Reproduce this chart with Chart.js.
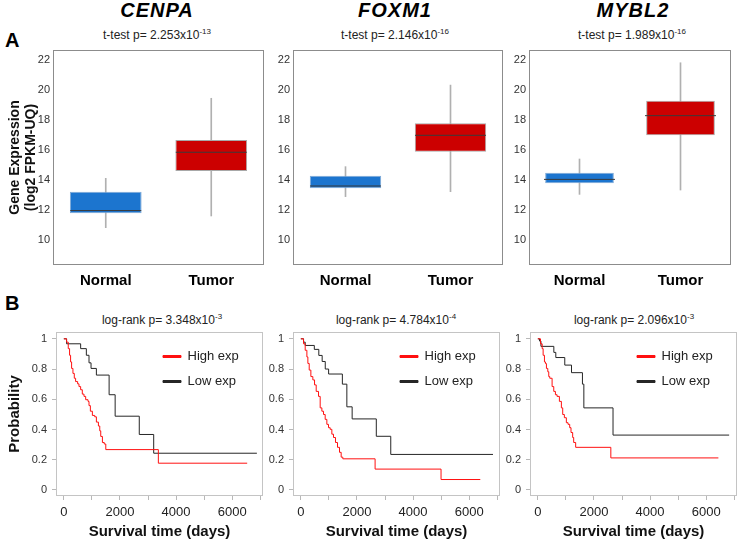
<!DOCTYPE html>
<html lang="en">
<head>
<meta charset="UTF-8" />
<title>CENPA / FOXM1 / MYBL2 expression and survival</title>
<script src="https://cdn.jsdelivr.net/npm/chart.js"></script>
<style>
  body { margin: 0; background: #fff; font-family: "Liberation Sans", Arial, sans-serif; }
  #fig { position: relative; width: 740px; height: 542px; overflow: hidden; background: #fff; }
  #fig canvas, #fig .txt { position: absolute; }
  .gene { width: 200px; text-align: center; font-size: 20px; line-height: 20px; font-weight: bold; font-style: italic; letter-spacing: 1px; color: #000; }
  .sub { width: 200px; text-align: center; font-size: 12px; line-height: 14px; color: #222; }
  .sub sup { font-size: 8px; line-height: 0; vertical-align: 5px; }
  .panel { font-size: 20px; line-height: 20px; font-weight: bold; color: #000; }
</style>
</head>
<body>
<div id="fig">
  <div class="txt panel" style="left:5px;top:30px">A</div>
  <div class="txt panel" style="left:5px;top:293px">B</div>

  <canvas id="box0" width="266" height="252" style="left:0px;top:45px"></canvas>
  <canvas id="box1" width="236" height="252" style="left:269px;top:45px"></canvas>
  <canvas id="box2" width="228" height="252" style="left:505px;top:45px"></canvas>

  <canvas id="km0" width="266" height="215" style="left:0px;top:327px"></canvas>
  <canvas id="km1" width="234" height="215" style="left:269px;top:327px"></canvas>
  <canvas id="km2" width="234" height="215" style="left:506px;top:327px"></canvas>
</div>

<script>
  // ---- data ----
  const genes = ["CENPA", "FOXM1", "MYBL2"];
  const groups = ["Normal", "Tumor"];
  const tTestP = ["2.253", "2.146", "1.989"];
  const tTestExp = ["-13", "-16", "-16"];
  const logRankP = ["3.348", "4.784", "2.096"];
  const logRankExp = ["-3", "-4", "-3"];

  const exprTicks = [10, 12, 14, 16, 18, 20, 22];
  const probTicks = [0, 0.2, 0.4, 0.6, 0.8, 1];
  const dayTicks = [0, 1000, 2000, 3000, 4000, 5000, 6000, 7000];

  // box stats per group [Normal, Tumor]
  const cenpaMin = [10.82, 11.6];
  const cenpaQ1 = [11.78, 14.6];
  const cenpaMed = [11.96, 15.85];
  const cenpaQ3 = [13.22, 16.67];
  const cenpaMax = [14.11, 19.45];

  const foxm1Min = [12.89, 13.22];
  const foxm1Q1 = [13.45, 15.89];
  const foxm1Med = [13.6, 16.98];
  const foxm1Q3 = [14.29, 17.78];
  const foxm1Max = [14.89, 20.33];

  const mybl2Min = [13.04, 13.33];
  const mybl2Q1 = [13.78, 16.98];
  const mybl2Med = [14.04, 18.29];
  const mybl2Q3 = [14.49, 19.29];
  const mybl2Max = [15.4, 21.82];

  // Kaplan-Meier steps: day of drop, survival after drop
  const cenpaHighDays = [0, 97, 157, 204, 240, 276, 324, 372, 419, 491, 539, 599, 658, 718, 778, 861, 897, 945, 1017, 1100, 1160, 1232, 1280, 1315, 1375, 1440, 1495, 3369, 6536];
  const cenpaHighSurv = [1, 0.978, 0.935, 0.891, 0.847, 0.804, 0.771, 0.739, 0.717, 0.702, 0.684, 0.663, 0.634, 0.619, 0.597, 0.586, 0.558, 0.521, 0.493, 0.484, 0.449, 0.423, 0.391, 0.354, 0.314, 0.304, 0.267, 0.177, 0.177];
  const cenpaLowDays = [0, 97, 599, 802, 897, 969, 1160, 1614, 1829, 2689, 3203, 6882];
  const cenpaLowSurv = [1, 0.967, 0.935, 0.891, 0.841, 0.804, 0.76, 0.63, 0.488, 0.367, 0.243, 0.243];

  const foxm1HighDays = [0, 96, 155, 215, 250, 298, 357, 428, 488, 547, 630, 689, 749, 808, 867, 927, 986, 1045, 1105, 1164, 1235, 1307, 1378, 1437, 1496, 2647, 4998, 6397];
  const foxm1HighSurv = [1, 0.967, 0.924, 0.88, 0.837, 0.793, 0.75, 0.728, 0.695, 0.652, 0.619, 0.543, 0.521, 0.499, 0.467, 0.434, 0.412, 0.401, 0.369, 0.347, 0.314, 0.282, 0.249, 0.217, 0.206, 0.138, 0.069, 0.069];
  const foxm1LowDays = [0, 96, 155, 480, 640, 760, 870, 990, 1480, 1640, 1829, 2690, 3205, 6850];
  const foxm1LowSurv = [1, 0.978, 0.956, 0.93, 0.89, 0.85, 0.8, 0.767, 0.7, 0.55, 0.47, 0.355, 0.235, 0.235];

  const mybl2HighDays = [0, 94, 153, 188, 235, 271, 306, 354, 389, 425, 508, 567, 626, 685, 768, 839, 886, 945, 1016, 1076, 1135, 1182, 1241, 1277, 1348, 2602, 6436];
  const mybl2HighSurv = [1, 0.967, 0.935, 0.891, 0.847, 0.836, 0.804, 0.782, 0.75, 0.739, 0.684, 0.652, 0.63, 0.619, 0.586, 0.543, 0.499, 0.478, 0.445, 0.434, 0.412, 0.38, 0.347, 0.314, 0.282, 0.212, 0.212];
  const mybl2LowDays = [0, 60, 110, 570, 640, 960, 1200, 1590, 1640, 2680, 6820];
  const mybl2LowSurv = [1, 0.985, 0.95, 0.91, 0.876, 0.826, 0.776, 0.7, 0.543, 0.363, 0.363];

  // ---- styling ----
  Chart.defaults.font.family = '"Liberation Sans", Arial, sans-serif';
  Chart.defaults.color = "#222";

  const boxFill = ["#1c75cf", "#cc0000"];
  const boxEdge = ["#7fa9d6", "#a8a8a8"];

  const fig = document.getElementById("fig");
  const geneX = [157, 395, 633];
  const subX = [157, 395, 632];
  const lrX = [162, 396, 634];
  genes.forEach((g, i) => {
    fig.insertAdjacentHTML("beforeend",
      `<div class="txt gene" style="left:${geneX[i] - 100}px;top:0px">${g}</div>` +
      `<div class="txt sub" style="left:${subX[i] - 100}px;top:28px">t-test p= ${tTestP[i]}x10<sup>${tTestExp[i]}</sup></div>` +
      `<div class="txt sub" style="left:${lrX[i] - 100}px;top:313px">log-rank p= ${logRankP[i]}x10<sup>${logRankExp[i]}</sup></div>`);
  });

  // fixed axis sizes so the plot frames land where they should
  function fix(size) {
    return (scale) => {
      if (scale.isHorizontal()) scale.height = size;
      else scale.width = size;
      scale.paddingTop = scale.paddingBottom = scale.paddingLeft = scale.paddingRight = 0;
    };
  }

  const framePlugin = {
    id: "frame",
    afterDraw(chart, args, opts) {
      const { ctx, chartArea: a } = chart;
      ctx.save();
      ctx.strokeStyle = opts.color;
      ctx.lineWidth = 1;
      ctx.strokeRect(Math.round(a.left) + 0.5, Math.round(a.top) + 0.5, Math.round(a.width) - 1, Math.round(a.height) - 1);
      ctx.restore();
    },
  };

  // put the legend in the upper right of the plot area
  const legendInside = {
    id: "legendInside",
    afterLayout(chart) {
      const lg = chart.legend, a = chart.chartArea;
      if (!lg) return;
      lg.left = a.right - 112;
      lg.right = a.right;
      lg.top = a.top + 6;
      lg.bottom = a.bottom;
      lg.width = lg.right - lg.left;
      lg.height = lg.bottom - lg.top;
    },
  };

  function makeBox(id, min, q1, med, q3, max, first) {
    new Chart(document.getElementById(id), {
      type: "bar",
      data: {
        labels: groups,
        datasets: [
          {
            type: "line",
            data: med,
            showLine: false,
            pointStyle: "line",
            pointRadius: 35.5,
            pointBorderColor: "#3a3a3a",
            pointBorderWidth: 1,
            order: 1,
          },
          {
            data: groups.map((g, k) => [q1[k], q3[k]]),
            backgroundColor: boxFill,
            borderColor: boxEdge,
            borderWidth: 1,
            borderSkipped: false,
            grouped: false,
            barPercentage: 0.68,
            categoryPercentage: 1,
            order: 2,
          },
          {
            data: groups.map((g, k) => [min[k], max[k]]),
            backgroundColor: "#b0b0b0",
            borderWidth: 0,
            barThickness: 1,
            grouped: false,
            order: 3,
          },
        ],
      },
      options: {
        responsive: false,
        animation: false,
        events: [],
        layout: { autoPadding: false, padding: { top: 5, right: 2, left: 0, bottom: 0 } },
        plugins: { legend: { display: false }, tooltip: { enabled: false }, frame: { color: "#8c8c8c" } },
        scales: {
          x: {
            grid: { display: false, drawTicks: false },
            border: { display: false },
            ticks: { color: "#000", padding: 7, font: { size: 15, weight: "bold" } },
            afterFit: fix(32),
          },
          y: {
            min: 8.33,
            max: 22.67,
            grid: { display: false, drawTicks: false },
            border: { display: false },
            afterBuildTicks: (s) => { s.ticks = exprTicks.map((v) => ({ value: v })); },
            ticks: { color: "#333", padding: 3, font: { size: 11 } },
            title: {
              display: first,
              text: ["Gene Expression", "(log2 FPKM-UQ)"],
              color: "#111",
              font: { size: 14, weight: "bold", lineHeight: 1.15 },
              padding: { top: 7, bottom: 0 },
            },
            afterFit: fix(first ? 53 : 24),
          },
        },
      },
      plugins: [framePlugin],
    });
  }

  const pts = (days, surv) => days.map((d, k) => ({ x: d, y: surv[k] }));

  function makeKM(id, highDays, highSurv, lowDays, lowSurv, first) {
    new Chart(document.getElementById(id), {
      type: "line",
      data: {
        datasets: [
          {
            label: "High exp",
            data: pts(highDays, highSurv),
            borderColor: "#ff1010",
            backgroundColor: "#ff1010",
            borderWidth: 1,
            stepped: "before",
            pointRadius: 0,
          },
          {
            label: "Low exp",
            data: pts(lowDays, lowSurv),
            borderColor: "#262626",
            backgroundColor: "#262626",
            borderWidth: 1,
            stepped: "before",
            pointRadius: 0,
          },
        ],
      },
      options: {
        responsive: false,
        animation: false,
        events: [],
        layout: { autoPadding: false, padding: { top: 5, right: 3, left: 0, bottom: 0 } },
        plugins: {
          tooltip: { enabled: false },
          frame: { color: "#c4c4c4" },
          legend: {
            position: "chartArea",
            align: "start",
            labels: { boxWidth: 18, boxHeight: 2, padding: 12, color: "#222", font: { size: 13 } },
          },
        },
        scales: {
          x: {
            type: "linear",
            min: -280,
            max: 7100,
            afterBuildTicks: (s) => { s.ticks = dayTicks.map((v) => ({ value: v })); },
            grid: { drawOnChartArea: false, tickLength: 4, color: "#b8b8b8" },
            border: { display: false },
            ticks: {
              callback: (v) => (v % 2000 === 0 ? String(v) : ""),
              autoSkip: false,
              maxRotation: 0,
              color: "#222",
              padding: 5,
              font: { size: 13 },
            },
            title: {
              display: true,
              text: "Survival time (days)",
              color: "#111",
              font: { size: 15, weight: "bold" },
              padding: { top: 0, bottom: 1 },
            },
            afterFit: fix(46),
          },
          y: {
            min: -0.04,
            max: 1.045,
            afterBuildTicks: (s) => { s.ticks = probTicks.map((v) => ({ value: v })); },
            grid: { drawOnChartArea: false, tickLength: 4, color: "#b8b8b8" },
            border: { display: false },
            ticks: { callback: (v) => String(v), color: "#333", padding: 5, font: { size: 11 } },
            title: {
              display: first,
              text: "Probability",
              color: "#111",
              font: { size: 15, weight: "bold" },
              padding: { top: 6, bottom: 0 },
            },
            afterFit: fix(first ? 56 : 24),
          },
        },
      },
      plugins: [framePlugin, legendInside],
    });
  }

  makeBox("box0", cenpaMin, cenpaQ1, cenpaMed, cenpaQ3, cenpaMax, true);
  makeBox("box1", foxm1Min, foxm1Q1, foxm1Med, foxm1Q3, foxm1Max, false);
  makeBox("box2", mybl2Min, mybl2Q1, mybl2Med, mybl2Q3, mybl2Max, false);

  makeKM("km0", cenpaHighDays, cenpaHighSurv, cenpaLowDays, cenpaLowSurv, true);
  makeKM("km1", foxm1HighDays, foxm1HighSurv, foxm1LowDays, foxm1LowSurv, false);
  makeKM("km2", mybl2HighDays, mybl2HighSurv, mybl2LowDays, mybl2LowSurv, false);
</script>
</body>
</html>
